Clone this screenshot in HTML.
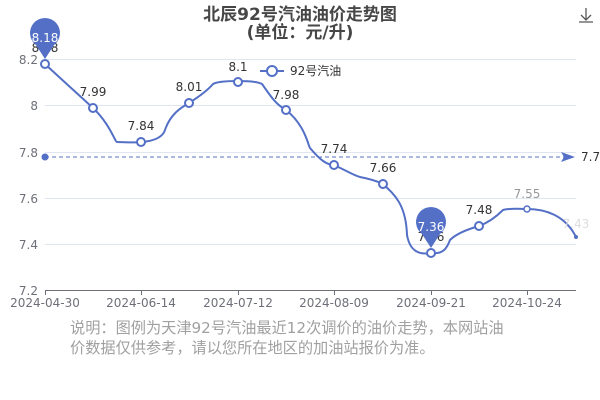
<!DOCTYPE html><html><head><meta charset="utf-8"><style>body{margin:0;background:#fff}svg{display:block;font-family:"DejaVu Sans","Noto Sans CJK SC",sans-serif}</style></head><body>
<svg width="600" height="400" viewBox="0 0 600 400">
<text x="300" y="20" text-anchor="middle" font-size="17" font-weight="bold" fill="#464646">北辰92号汽油油价走势图</text>
<text x="300" y="38" text-anchor="middle" font-size="17" font-weight="bold" fill="#464646">(单位：元/升)</text>
<g stroke="#585858" fill="none" stroke-width="1.3"><path d="M586 8v12M581 15l5 5 5-5M579 22h14"/></g>
<g stroke="#e0e6f1" stroke-width="1"><path d="M45 59.5H576M45 105.5H576M45 152.5H576M45 198.5H576M45 244.5H576"/></g>
<path d="M45 290.5H576" stroke="#6e7079"/>
<g stroke="#6e7079"><path d="M45.5 290v5M141.5 290v5M238.5 290v5M334.5 290v5M431.5 290v5M527.5 290v5"/></g>
<g font-size="12" fill="#6e7079" text-anchor="end"><text x="38" y="64">8.2</text><text x="38" y="110">8</text><text x="38" y="157">7.8</text><text x="38" y="203">7.6</text><text x="38" y="249">7.4</text><text x="38" y="295">7.2</text></g>
<g font-size="12" fill="#6e7079" text-anchor="middle"><text x="45" y="307">2024-04-30</text><text x="141" y="307">2024-06-14</text><text x="238" y="307">2024-07-12</text><text x="334" y="307">2024-08-09</text><text x="431" y="307">2024-09-21</text><text x="527" y="307">2024-10-24</text></g>
<path d="M45 157H568" stroke="#5470c6" stroke-dasharray="4,3"/>
<circle cx="45" cy="157" r="3.5" fill="#5470c6"/>
<path d="M561 152l14 5-14 5 3-5z" fill="#5470c6"/>
<text x="581" y="161" font-size="12" fill="#333">7.7</text>
<path d="M45 64C60 78 80 96 93 108C110 124 115 142 117 142C125 142 160 146 165 130C170 115 180 108 189 103C200 96 208 90 213 84C220 80 255 80 262 84C270 95 275 104 286 110C305 125 308 145 310 148C320 160 327 165 334 165C345 170 355 176 360 177C365 178 375 180 383 184C395 195 406 205 407 235C410 252 420 255 431 253C445 255 448 245 450 240C455 235 465 230 479 226C490 222 498 215 503 210C510 208 520 209 527 209C545 209 565 215 576 237" fill="none" stroke="#5470c6" stroke-width="2"/>
<g fill="#fff" stroke="#5470c6" stroke-width="2"><circle cx="45" cy="64" r="4"/><circle cx="93" cy="108" r="4"/><circle cx="141" cy="142" r="4"/><circle cx="189" cy="103" r="4"/><circle cx="238" cy="82" r="4"/><circle cx="286" cy="110" r="4"/><circle cx="334" cy="165" r="4"/><circle cx="383" cy="184" r="4"/><circle cx="431" cy="253" r="4"/><circle cx="479" cy="226" r="4"/><circle cx="527" cy="209" r="3" stroke-width="1.5"/></g>
<circle cx="576" cy="237" r="2" fill="#5470c6"/>
<g font-size="12" fill="#333" text-anchor="middle"><text x="93" y="96">7.99</text><text x="141" y="130">7.84</text><text x="189" y="91">8.01</text><text x="238" y="71">8.1</text><text x="286" y="99">7.98</text><text x="334" y="153">7.74</text><text x="383" y="172">7.66</text><text x="479" y="214">7.48</text><text x="527" y="198" fill="#999">7.55</text><text x="576" y="228" fill="#ddd">7.43</text><text x="45" y="52">8.18</text><text x="431" y="241">7.36</text></g>
<path d="M45 59L36 45A15 15 0 1 1 54 45Z" fill="#5470c6"/>
<text x="45" y="42" font-size="12" fill="#fff" text-anchor="middle">8.18</text>
<path d="M431 248L422 234A15 15 0 1 1 440 234Z" fill="#5470c6"/>
<text x="431" y="231" font-size="12" fill="#fff" text-anchor="middle">7.36</text>
<path d="M260 71H284" stroke="#5470c6" stroke-width="2"/><circle cx="272" cy="71" r="5" fill="#fff" stroke="#5470c6" stroke-width="2"/>
<text x="290" y="75" font-size="12" fill="#333">92号汽油</text>
<g font-size="15.2" fill="#a0a0a0"><text x="70" y="333">说明：图例为天津92号汽油最近12次调价的油价走势，本网站油</text><text x="70" y="353">价数据仅供参考，请以您所在地区的加油站报价为准。</text></g>
</svg></body></html>
